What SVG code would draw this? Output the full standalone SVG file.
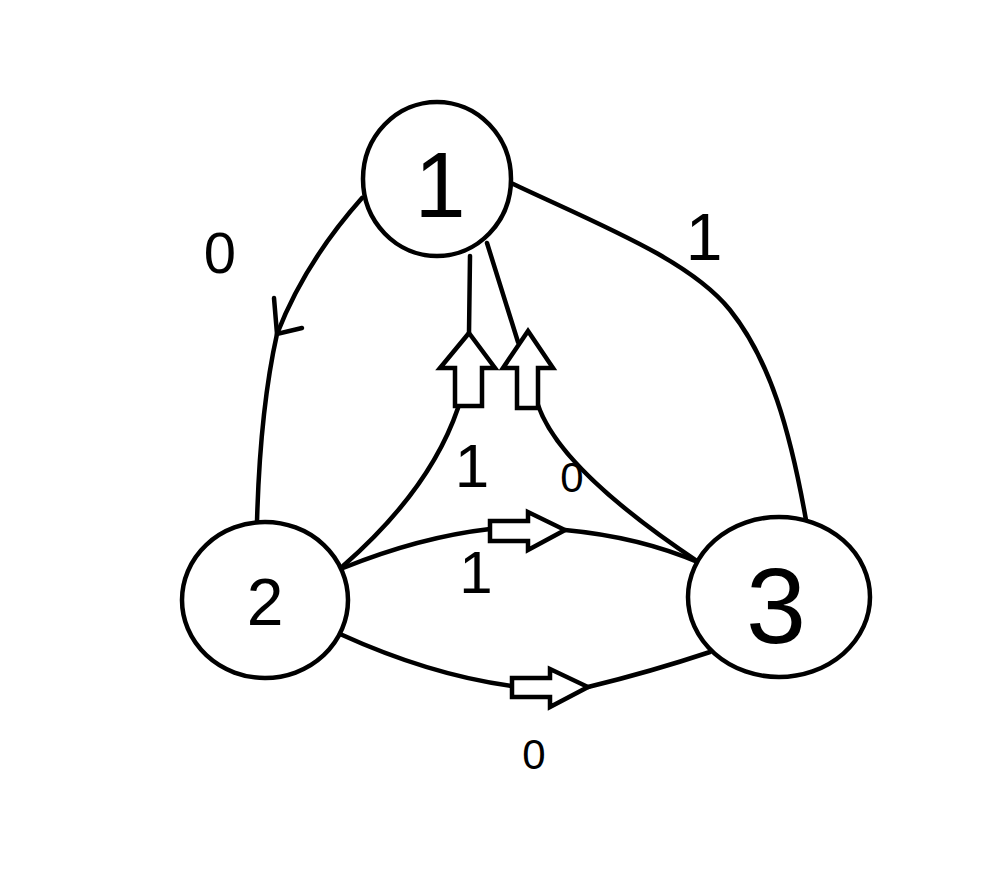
<svg xmlns="http://www.w3.org/2000/svg" width="1006" height="878" viewBox="0 0 1006 878">
<style>
.node{fill:#fff;stroke:#000;stroke-width:4.5}
.edge{fill:none;stroke:#000;stroke-width:4.5;stroke-linecap:round}
.barrow{fill:#fff;stroke:#000;stroke-width:4.5;stroke-linejoin:miter}
.lbl{font-family:"Liberation Sans",Arial,sans-serif;fill:#000;text-anchor:middle}
</style>
<rect width="1006" height="878" fill="#fff"/>
<g id="connectors">
<!-- 1 -> 2, label 0 -->
<path class="edge" d="M 362 198 Q 305 262 277 334 Q 260 410 257 522"/>
<path class="edge" d="M 274 298 L 277 334 L 302 328"/>
<!-- 1 -> 3, label 1 -->
<path class="edge" d="M 511 183 C 600 225 690 260 730 310 C 770 360 790 430 806 520"/>
<!-- 2 -> 1 via up block arrow, label 1 -->
<path class="edge" d="M 470 256 L 469 333"/>
<path class="edge" d="M 458 408 Q 430 490 343 566"/>
<polygon id="arrow-2-1" class="barrow" points="469,333 495,368 482,368 482,406 455,406 455,368 440,368"/>
<!-- 3 -> 1 via up block arrow, label 0 -->
<path class="edge" d="M 487 243 L 518 342"/>
<path class="edge" d="M 538 405 Q 560 470 700 563"/>
<polygon id="arrow-3-1" class="barrow" points="528,331 553,368 538,368 538,408 517,408 517,368 503,368"/>
<!-- 2 -> 3 upper, label 1 -->
<path class="edge" d="M 343 568 Q 420 537 490 529"/>
<path class="edge" d="M 565 530 Q 640 537 700 563"/>
<polygon id="arrow-2-3a" class="barrow" points="490,521 528,521 528,512 565,530 528,550 528,541 490,541"/>
<!-- 2 -> 3 lower, label 0 -->
<path class="edge" d="M 340 634 Q 430 675 512 686"/>
<path class="edge" d="M 588 687 Q 650 672 710 652"/>
<polygon id="arrow-2-3b" class="barrow" points="512,678 550,678 550,669 588,687 550,707 550,697 512,697"/>
</g>
<g id="node-1">
<ellipse class="node" cx="437" cy="179" rx="74" ry="77"/>
<text class="lbl" x="440" y="217" font-size="92">1</text>
</g>
<g id="node-2">
<ellipse class="node" cx="265" cy="600" rx="83" ry="78"/>
<text class="lbl" x="265" y="625" font-size="66">2</text>
</g>
<g id="node-3">
<ellipse class="node" cx="779" cy="597" rx="91" ry="80"/>
<text class="lbl" x="776" y="643" font-size="108">3</text>
</g>
<g id="edge-labels">
<text class="lbl" x="220" y="273" font-size="58">0</text>
<text class="lbl" x="704" y="260" font-size="66">1</text>
<text class="lbl" x="472" y="487" font-size="62">1</text>
<text class="lbl" x="572" y="492" font-size="42">0</text>
<text class="lbl" x="476" y="593" font-size="60">1</text>
<text class="lbl" x="534" y="769" font-size="42">0</text>
</g>
</svg>
